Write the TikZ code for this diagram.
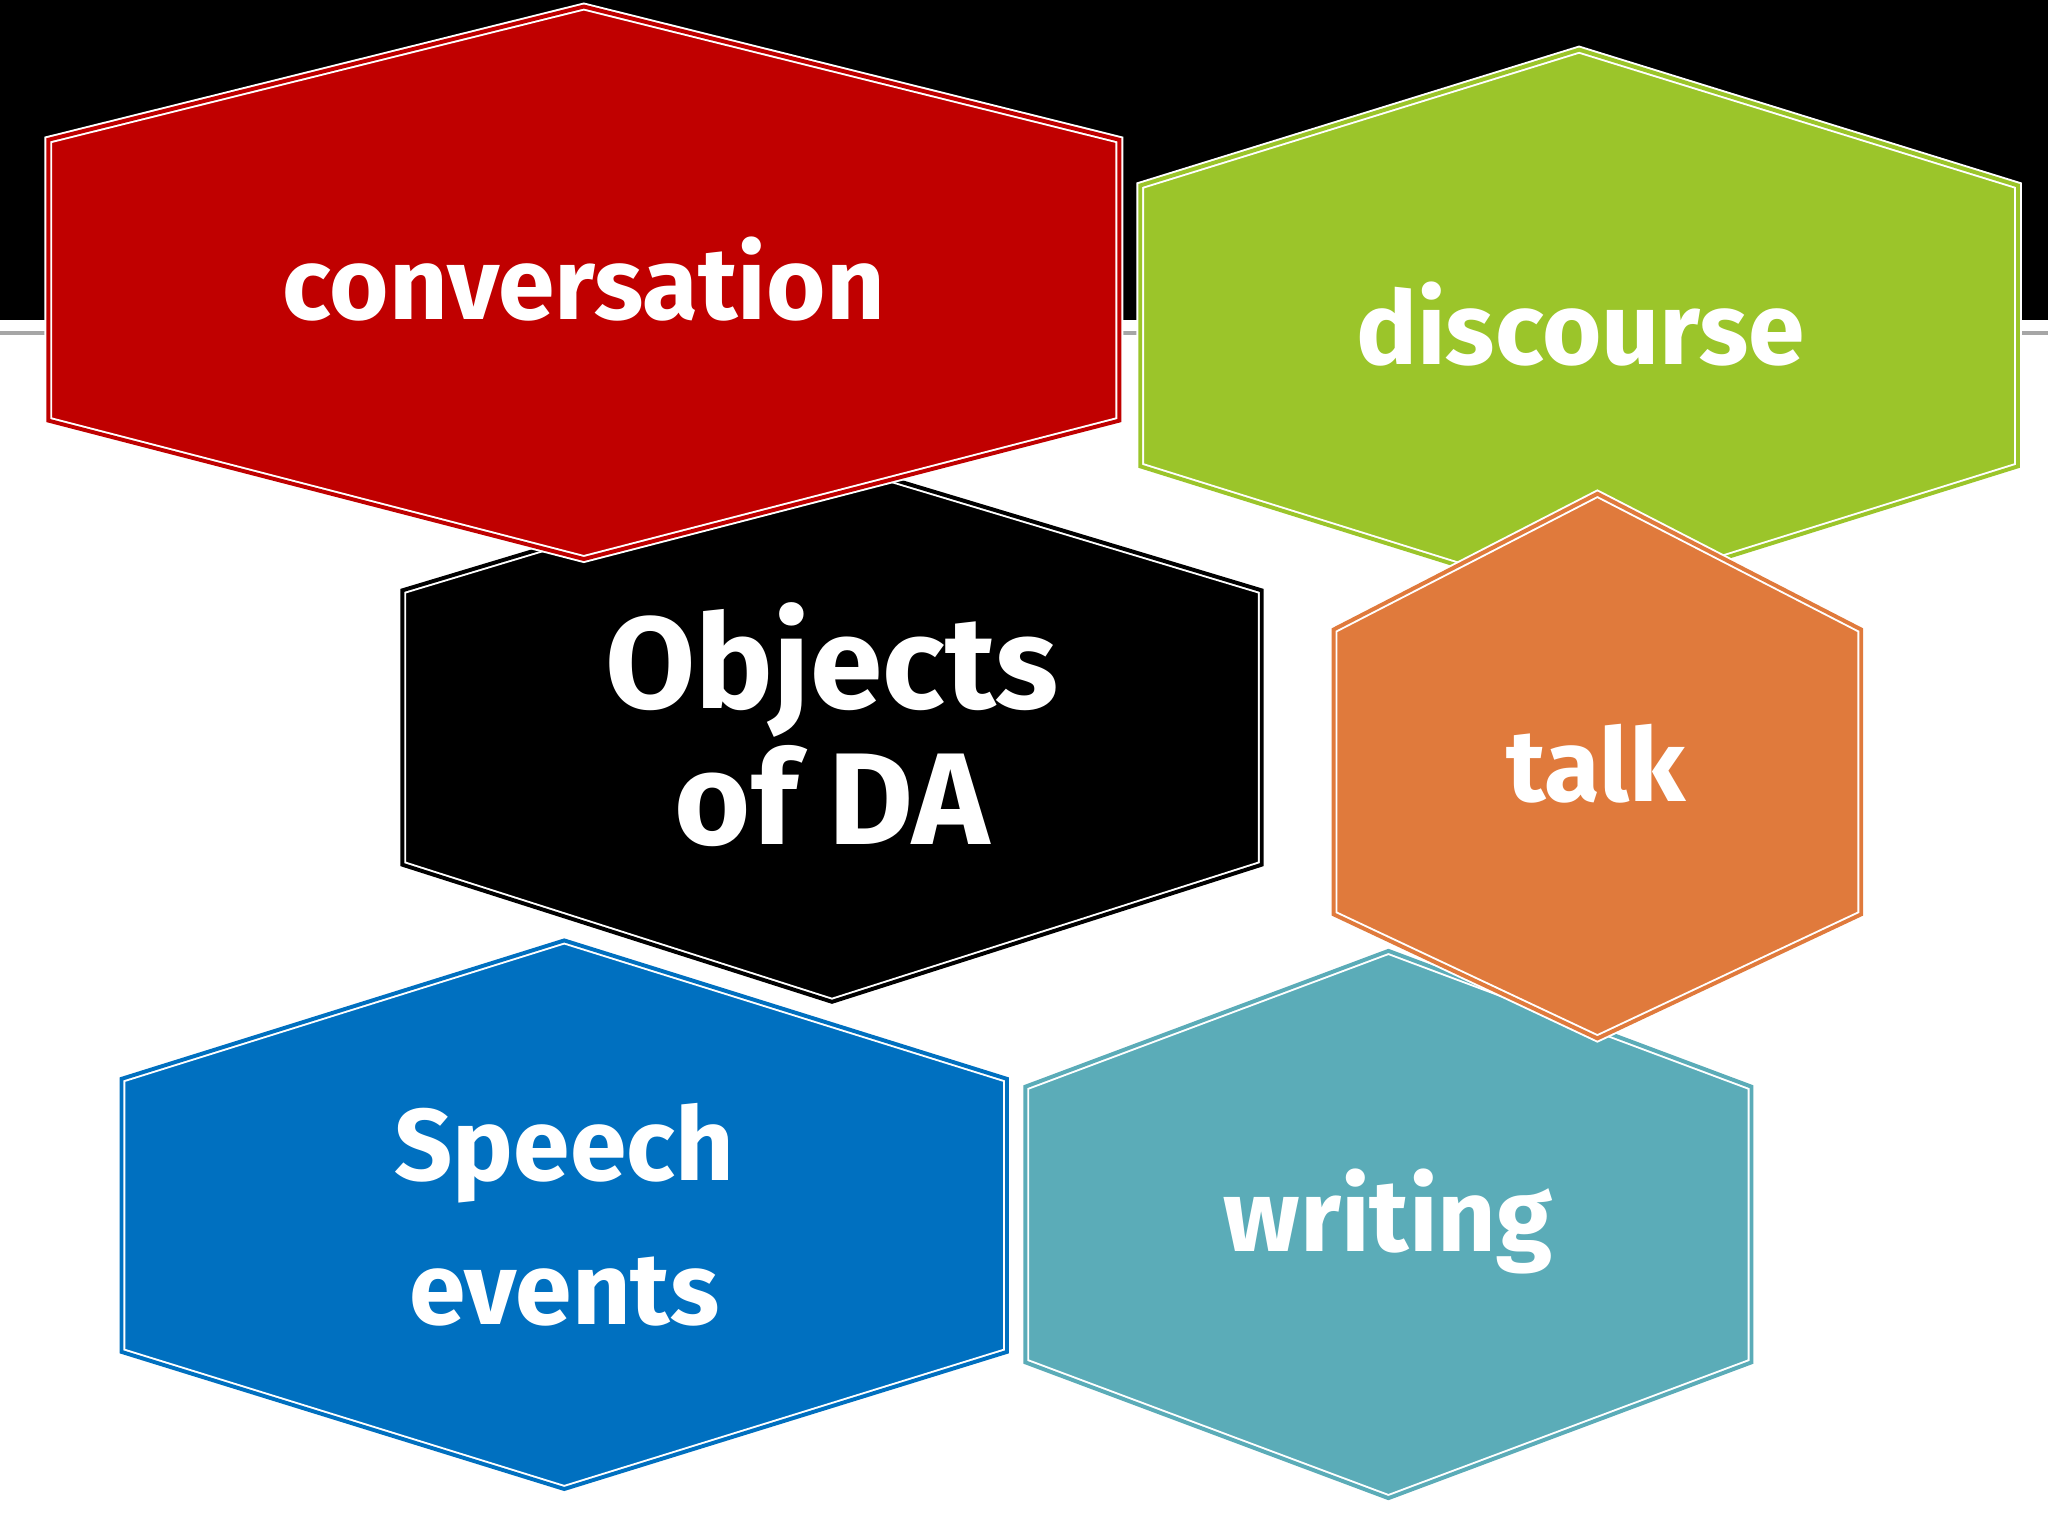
\documentclass[tikz,border=0pt]{standalone}
\usepackage{fontspec}
\setmainfont{Fira Sans}
\definecolor{cred}{HTML}{C00000}
\definecolor{cgreen}{HTML}{9BC52A}
\definecolor{corange}{HTML}{E07A3C}
\definecolor{cblue}{HTML}{0070C0}
\definecolor{cteal}{HTML}{5BACB8}
\newcommand{\myhex}[8]{%
  \path[fill=#8] (#2,#3)--(#2-#4,#5)--(#2-#4,#6)--(#2,#7)--(#2+#4,#6)--(#2+#4,#5)--cycle;
  \draw[white,line width=6pt,line join=miter] (#2,#3)--(#2-#4,#5)--(#2-#4,#6)--(#2,#7)--(#2+#4,#6)--(#2+#4,#5)--cycle;
  \draw[#8,line width=3pt,line join=miter] (#2,#3)--(#2-#4,#5)--(#2-#4,#6)--(#2,#7)--(#2+#4,#6)--(#2+#4,#5)--cycle;
  \coordinate (#1) at (#2,{(#3+#7)/2});}
\tikzset{lbl/.style={text=white,font=\bfseries\fontsize{78}{90}\selectfont,align=center},
big/.style={text=white,font=\bfseries\fontsize{100}{112}\selectfont,align=center}}
\begin{document}
\begin{tikzpicture}[x=1pt,y=-1pt]
\useasboundingbox (0,0) rectangle (1568,1176);
\fill[white] (0,0) rectangle (1568,1176);
\fill[black] (0,0) rectangle (1568,245);
\draw[gray!70,line width=3pt] (0,255)--(1568,255);
\myhex{hdisc}{1209}{38}{336}{142}{357}{462}{cgreen}
\myhex{hobj}{637}{353}{329}{452}{662}{767}{black}
\myhex{hconv}{447}{5}{410}{107}{322}{428}{cred}
\myhex{hwrit}{1063}{728}{278}{832}{1043}{1147}{cteal}
\myhex{htalk}{1223}{378}{202}{482}{700}{795}{corange}
\myhex{hspeech}{432}{720}{339}{826}{1035}{1140}{cblue}
\node[lbl] (conv) at (447,214) {conversation};
\node[lbl] (disc) at (1210,248) {discourse};
\node[big] (obj) at (637,555) {Objects\\[-8pt]of DA};
\node[lbl] (talk) at (1222,585) {talk};
\node[lbl] (speech) at (432,930) {Speech\\[20pt]events};
\node[lbl] (writ) at (1063,935) {writing};
\end{tikzpicture}
\end{document}
